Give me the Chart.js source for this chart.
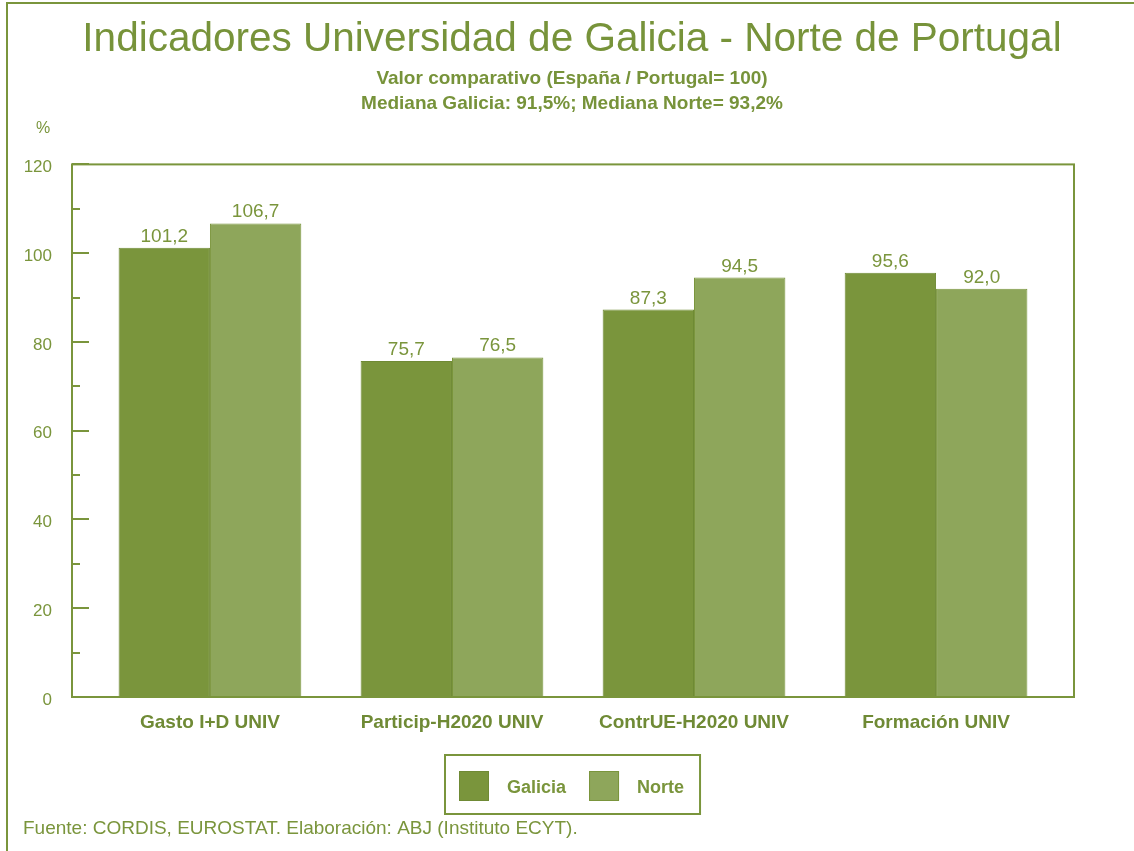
<!DOCTYPE html>
<html>
<head>
<meta charset="utf-8">
<script src="https://cdn.jsdelivr.net/npm/chart.js@4/dist/chart.umd.min.js"></script>
<style>
  html, body { margin: 0; padding: 0; background: #ffffff; }
  #wrap { position: relative; width: 1134px; height: 851px; }
</style>
</head>
<body>
<div id="wrap"><canvas id="c" width="1134" height="851"></canvas></div>
<script>
const categories = ['Gasto I+D UNIV', 'Particip-H2020 UNIV', 'ContrUE-H2020 UNIV', 'Formación UNIV'];
const galicia = [101.2, 75.7, 87.3, 95.6];
const norte = [106.7, 76.5, 94.5, 92.0];
const yTicks = [0, 20, 40, 60, 80, 100, 120];
const seriesNames = ['Galicia', 'Norte'];

const GREEN = '#7a953c';
const DARK = '#7a953c';
const LIGHT = '#8ea65b';
const FONT = '"Liberation Sans", Arial, sans-serif';

const framePlugin = {
  id: 'frame',
  beforeDraw(chart) {
    const ctx = chart.ctx;
    ctx.save();
    ctx.fillStyle = '#ffffff';
    ctx.fillRect(0, 0, chart.width, chart.height);
    ctx.strokeStyle = GREEN;
    ctx.lineWidth = 2;
    ctx.beginPath();
    ctx.moveTo(7, chart.height);
    ctx.lineTo(7, 3);
    ctx.lineTo(chart.width, 3);
    ctx.stroke();
    ctx.restore();
  },
  afterDraw(chart) {
    const ctx = chart.ctx;
    const a = chart.chartArea;
    const y = chart.scales.y;
    ctx.save();
    ctx.strokeStyle = GREEN;
    ctx.lineWidth = 2;
    ctx.strokeRect(a.left, a.top, a.right - a.left, a.bottom - a.top);
    // inward ticks
    for (let v = y.min; v <= y.max; v += 10) {
      const py = Math.round(y.getPixelForValue(v));
      const len = (v % 20 === 0) ? 17 : 8;
      ctx.beginPath();
      ctx.moveTo(a.left, py);
      ctx.lineTo(a.left + len, py);
      ctx.stroke();
    }
    // % label
    ctx.fillStyle = GREEN;
    ctx.font = '16px ' + FONT;
    ctx.textAlign = 'left';
    ctx.textBaseline = 'middle';
    ctx.fillText('%', a.left - 36, a.top - 36);
    // footer
    ctx.font = '19px ' + FONT;
    ctx.fillText('Fuente: CORDIS, EUROSTAT. Elaboración: ABJ (Instituto ECYT).', 23, 829);
    // legend
    ctx.font = 'bold 18px ' + FONT;
    const items = chart.data.datasets.map(d => ({ label: d.label, color: d.backgroundColor, border: d.borderColor, w: ctx.measureText(d.label).width }));
    const pad = 14, sw = 30, gapT = 18, gapI = 23, rightPad = 16;
    let total = pad + rightPad;
    items.forEach((it, i) => { total += sw + gapT + it.w + (i < items.length - 1 ? gapI : 0); });
    const boxH = 59;
    const cx = (a.left + a.right) / 2;
    const bx = Math.round(cx - total / 2);
    const by = 755;
    ctx.lineWidth = 2;
    ctx.strokeRect(bx, by, total, boxH);
    let x = bx + pad;
    items.forEach((it) => {
      ctx.fillStyle = it.color;
      ctx.fillRect(x, by + 16, sw, sw);
      ctx.strokeStyle = it.border;
      ctx.lineWidth = 1;
      ctx.strokeRect(x + 0.5, by + 16.5, sw - 1, sw - 1);
      x += sw + gapT;
      ctx.fillStyle = GREEN;
      ctx.textBaseline = 'middle';
      ctx.fillText(it.label, x, by + 33);
      x += it.w + gapI;
    });
    ctx.restore();
  },
  afterDatasetsDraw(chart) {
    const ctx = chart.ctx;
    ctx.save();
    ctx.fillStyle = GREEN;
    ctx.font = '19px ' + FONT;
    ctx.textAlign = 'center';
    ctx.textBaseline = 'alphabetic';
    chart.data.datasets.forEach((ds, di) => {
      const meta = chart.getDatasetMeta(di);
      meta.data.forEach((bar, i) => {
        const v = ds.data[i].y;
        ctx.fillText(v.toFixed(1).replace('.', ','), bar.x, bar.y - 6);
      });
    });
    ctx.restore();
  }
};

new Chart(document.getElementById('c'), {
  type: 'bar',
  data: {
    datasets: [
      { label: seriesNames[0], data: galicia.map((v, i) => ({ x: i, y: v })), backgroundColor: DARK, borderColor: '#6f8a35', borderWidth: 1 },
      { label: seriesNames[1], data: norte.map((v, i) => ({ x: i, y: v })), backgroundColor: LIGHT, borderColor: '#7a953c', borderWidth: 1 }
    ]
  },
  options: {
    responsive: false,
    animation: false,
    devicePixelRatio: 1,
    layout: { padding: { left: 10, right: 0, top: 0, bottom: 0 } },
    datasets: { bar: { categoryPercentage: 0.755, barPercentage: 1.0 } },
    plugins: {
      legend: { display: false },
      tooltip: { enabled: false },
      title: {
        display: true,
        text: 'Indicadores Universidad de Galicia - Norte de Portugal',
        color: '#77933a',
        font: { family: FONT, size: 40.5, weight: 'normal', lineHeight: 1.2 },
        padding: { top: 15.7, bottom: 0 }
      },
      subtitle: {
        display: true,
        text: ['Valor comparativo (España / Portugal= 100)', 'Mediana Galicia: 91,5%; Mediana Norte= 93,2%'],
        color: '#77933a',
        font: { family: FONT, size: 19, weight: 'bold', lineHeight: 1.316 },
        padding: { top: 1.9, bottom: 48.2 }
      }
    },
    scales: {
      x: {
        type: 'linear',
        min: -0.57,
        max: 3.57,
        offset: false,
        grid: { display: false, drawTicks: false },
        border: { display: false },
        afterBuildTicks(scale) { scale.ticks = categories.map((c, i) => ({ value: i })); },
        afterFit(scale) { scale.height = 154; },
        ticks: {
          color: '#6f8a35',
          font: { family: FONT, size: 19, weight: 'bold' },
          padding: 14,
          maxRotation: 0,
          autoSkip: false,
          callback: (v) => categories[v]
        }
      },
      y: {
        min: 0,
        max: 120,
        afterBuildTicks(scale) { scale.ticks = yTicks.map(v => ({ value: v })); },
        afterFit(scale) { scale.width = 62; },
        grid: { display: false, drawTicks: false },
        border: { display: false },
        ticks: {
          color: GREEN,
          font: { family: FONT, size: 17 },
          padding: 20,
          labelOffset: 3
        }
      },
      yr: {
        position: 'right',
        display: true,
        grid: { display: false, drawTicks: false },
        border: { display: false },
        ticks: { display: false },
        afterFit(scale) { scale.width = 60; }
      }
    }
  },
  plugins: [framePlugin]
});
</script>
</body>
</html>
